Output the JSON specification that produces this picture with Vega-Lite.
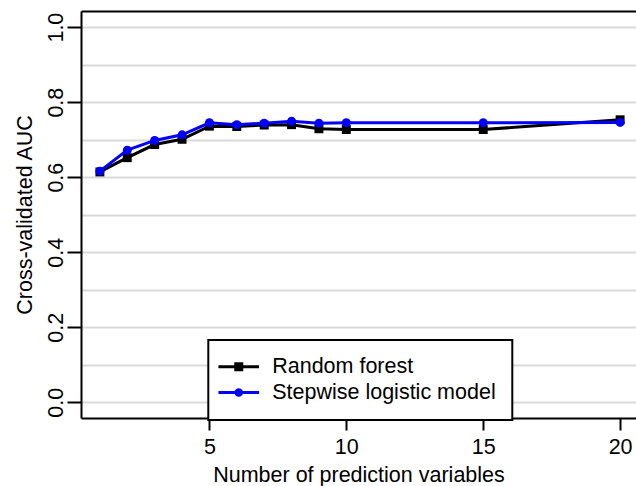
{
  "$schema": "https://vega.github.io/schema/vega-lite/v6.json",
  "width": 555,
  "height": 407,
  "autosize": {"type": "none"},
  "padding": {"left": 81, "top": 11, "right": 0, "bottom": 68},
  "background": "white",
  "config": {
    "view": {"stroke": null},
    "font": "Liberation Sans",
    "legend": {"strokeWidth": 2}
  },
  "data": {
    "values": [
      {"n": 1, "model": "Random forest", "auc": 0.614},
      {"n": 2, "model": "Random forest", "auc": 0.652},
      {"n": 3, "model": "Random forest", "auc": 0.687},
      {"n": 4, "model": "Random forest", "auc": 0.701},
      {"n": 5, "model": "Random forest", "auc": 0.736},
      {"n": 6, "model": "Random forest", "auc": 0.735},
      {"n": 7, "model": "Random forest", "auc": 0.739},
      {"n": 8, "model": "Random forest", "auc": 0.740},
      {"n": 9, "model": "Random forest", "auc": 0.729},
      {"n": 10, "model": "Random forest", "auc": 0.727},
      {"n": 15, "model": "Random forest", "auc": 0.727},
      {"n": 20, "model": "Random forest", "auc": 0.753},
      {"n": 1, "model": "Stepwise logistic model", "auc": 0.616},
      {"n": 2, "model": "Stepwise logistic model", "auc": 0.672},
      {"n": 3, "model": "Stepwise logistic model", "auc": 0.698},
      {"n": 4, "model": "Stepwise logistic model", "auc": 0.713},
      {"n": 5, "model": "Stepwise logistic model", "auc": 0.745},
      {"n": 6, "model": "Stepwise logistic model", "auc": 0.740},
      {"n": 7, "model": "Stepwise logistic model", "auc": 0.744},
      {"n": 8, "model": "Stepwise logistic model", "auc": 0.749},
      {"n": 9, "model": "Stepwise logistic model", "auc": 0.744},
      {"n": 10, "model": "Stepwise logistic model", "auc": 0.745},
      {"n": 15, "model": "Stepwise logistic model", "auc": 0.745},
      {"n": 20, "model": "Stepwise logistic model", "auc": 0.746}
    ]
  },
  "encoding": {
    "y": {
      "field": "auc",
      "type": "quantitative",
      "title": "Cross-validated AUC",
      "scale": {"domain": [-0.042, 1.043], "nice": false, "zero": false},
      "axis": {
        "values": [0, 0.1, 0.2, 0.3, 0.4, 0.5, 0.6, 0.7, 0.8, 0.9, 1.0],
        "labelExpr": "round(datum.value*10) % 2 == 0 ? format(datum.value, '.1f') : ''",
        "tickOpacity": {"condition": {"test": "round(datum.value*10) % 2 == 1", "value": 0}, "value": 1},
        "grid": true,
        "gridColor": "#d9d9d9",
        "gridWidth": 2,
        "domainColor": "black",
        "domainWidth": 2,
        "tickColor": "black",
        "tickWidth": 2,
        "tickSize": 14,
        "labelAngle": -90,
        "labelAlign": "center",
        "labelBaseline": "alphabetic",
        "labelPadding": 5,
        "labelFontSize": 21.5,
        "labelColor": "black",
        "labelFont": "Liberation Sans",
        "titleFont": "Liberation Sans",
        "titleFontSize": 21.5,
        "titleFontWeight": "normal",
        "titleColor": "black",
        "titleAngle": -90,
        "titleAlign": "center",
        "titleBaseline": "alphabetic",
        "titleX": -50,
        "titleY": 203.5
      }
    }
  },
  "layer": [
    {
      "transform": [{"filter": "datum.model == 'Random forest'"}],
      "mark": {"type": "line", "strokeWidth": 3},
      "encoding": {
        "x": {
          "field": "n",
          "type": "quantitative",
          "title": "Number of prediction variables",
          "scale": {"domain": [0.31, 20.58], "nice": false, "zero": false},
          "axis": {
            "values": [5, 10, 15, 20],
            "grid": false,
            "domainColor": "black",
            "domainWidth": 2,
            "tickColor": "black",
            "tickWidth": 2,
            "tickSize": 12,
            "labelAngle": 0,
            "labelBaseline": "alphabetic",
            "labelPadding": 23.5,
            "labelFontSize": 21.5,
            "labelColor": "black",
            "labelFont": "Liberation Sans",
            "titleFont": "Liberation Sans",
            "titleFontSize": 21.5,
            "titleFontWeight": "normal",
            "titleColor": "black",
            "titleBaseline": "alphabetic",
            "titleY": 63.5
          }
        },
        "color": {
          "field": "model",
          "type": "nominal",
          "scale": {"domain": ["Random forest", "Stepwise logistic model"], "range": ["black", "blue"]},
          "legend": {
            "orient": "none",
            "legendX": 127.3,
            "legendY": 329,
            "title": null,
            "strokeColor": "black",
            "fillColor": "white",
            "padding": 16,
            "symbolSize": 100,
            "symbolStrokeWidth": 3,
            "rowPadding": 2.8,
            "labelOffset": 26.4,
            "labelFontSize": 21.5,
            "labelColor": "black",
            "labelFont": "Liberation Sans",
            "labelLimit": 400,
            "encode": {
              "symbols": {
                "update": {
                  "shape": {"signal": "datum.value === 'Random forest' ? 'M-3.32,0H4.8M0.14,-0.6H1.34V0.6H0.14Z' : 'M-3.32,0H4.8M0.19,0A0.55,0.55,0,1,0,1.29,0A0.55,0.55,0,1,0,0.19,0Z'"},
                  "fill": {"signal": "datum.value === 'Random forest' ? 'black' : 'blue'"}
                }
              }
            }
          }
        }
      }
    },
    {
      "transform": [{"filter": "datum.model == 'Random forest'"}],
      "mark": {"type": "point", "shape": "square", "filled": true, "size": 80, "color": "black", "opacity": 1},
      "encoding": {
        "x": {
          "field": "n",
          "type": "quantitative",
          "scale": {"domain": [0.31, 20.58], "nice": false, "zero": false},
          "axis": {
            "orient": "top",
            "title": null,
            "labels": false,
            "ticks": false,
            "grid": false,
            "domainColor": "black",
            "domainWidth": 2
          }
        }
      }
    },
    {
      "transform": [{"filter": "datum.model == 'Stepwise logistic model'"}],
      "mark": {"type": "line", "strokeWidth": 3},
      "encoding": {
        "x": {"field": "n", "type": "quantitative", "scale": {"domain": [0.31, 20.58], "nice": false, "zero": false}, "axis": null},
        "color": {"field": "model", "type": "nominal"}
      }
    },
    {
      "transform": [{"filter": "datum.model == 'Stepwise logistic model'"}],
      "mark": {"type": "point", "shape": "circle", "filled": true, "size": 80, "color": "blue", "opacity": 1},
      "encoding": {
        "x": {"field": "n", "type": "quantitative", "scale": {"domain": [0.31, 20.58], "nice": false, "zero": false}, "axis": null}
      }
    }
  ],
  "resolve": {"axis": {"x": "independent"}}
}
